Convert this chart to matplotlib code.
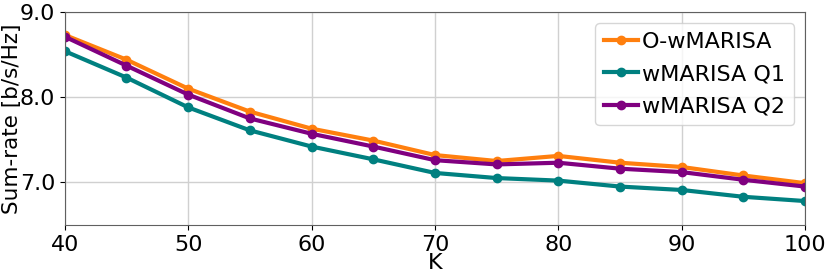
import numpy as np
import matplotlib
matplotlib.use('Agg')
import matplotlib.pyplot as plt
from matplotlib.ticker import FormatStrFormatter

# number of users K
K = [40, 45, 50, 55, 60, 65, 70, 75, 80, 85, 90, 95, 100]

# sum-rate values
o_wmarisa = [8.73, 8.44, 8.10, 7.83, 7.63, 7.49, 7.32, 7.25, 7.31, 7.23, 7.18, 7.08, 6.99]
wmarisa_q1 = [8.54, 8.23, 7.88, 7.61, 7.42, 7.27, 7.11, 7.05, 7.02, 6.95, 6.91, 6.83, 6.78]
wmarisa_q2 = [8.71, 8.37, 8.03, 7.75, 7.57, 7.42, 7.26, 7.21, 7.23, 7.16, 7.12, 7.03, 6.95]

yticks = [7.0, 8.0, 9.0]

fig = plt.figure(figsize=(8.3, 2.78), dpi=100)
ax = fig.add_axes([0.078, 0.191, 0.892, 0.766])

ax.plot(K, o_wmarisa, color='#ff7f0e', marker='o', lw=3, ms=6, label='O-wMARISA')
ax.plot(K, wmarisa_q1, color='#008080', marker='o', lw=3, ms=6, label='wMARISA Q1')
ax.plot(K, wmarisa_q2, color='#800080', marker='o', lw=3, ms=6, label='wMARISA Q2')

ax.set_xlim(40, 100)
ax.set_ylim(6.5, 9.0)
ax.set_yticks(yticks)
ax.yaxis.set_major_formatter(FormatStrFormatter('%.1f'))
ax.tick_params(labelsize=16)
ax.grid(True, color='#d0d0d0', lw=1)
ax.set_xlabel('K', fontsize=16, labelpad=-1)
ax.set_ylabel('Sum-rate [b/s/Hz]', fontsize=15.5)
ax.yaxis.set_label_coords(-0.058, 0.5)
for s in ax.spines.values():
    s.set_color('#606060')

ax.legend(loc='upper right', fontsize=16, handlelength=1.5, handletextpad=0.2,
          labelspacing=0.55)

fig.savefig('out.png', dpi=100)
